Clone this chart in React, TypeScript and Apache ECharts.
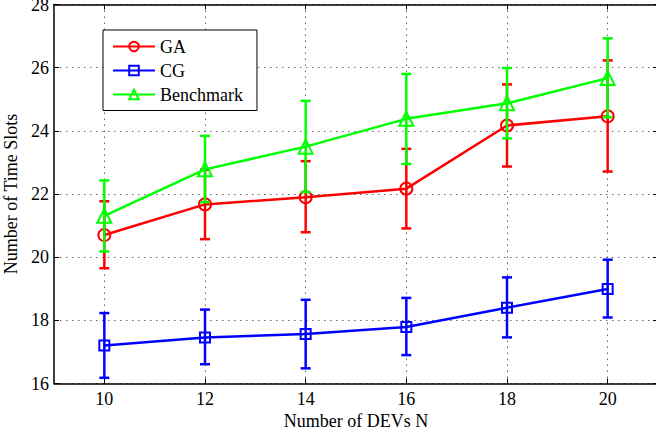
import React, { useEffect, useRef } from "react";
import * as echarts from "echarts";

const xCats = ["9", "10", "11", "12", "13", "14", "15", "16", "17", "18", "19", "20", "21"];
const xVals = ["10", "12", "14", "16", "18", "20"];

const gaMean = [20.7, 21.67, 21.9, 22.17, 24.17, 24.46];
const gaUpper = [21.77, 22.77, 23.04, 23.43, 25.47, 26.23];
const gaLower = [19.65, 20.57, 20.79, 20.91, 22.87, 22.71];

const cgMean = [17.2, 17.46, 17.57, 17.79, 18.4, 18.99];
const cgUpper = [18.23, 18.34, 18.65, 18.71, 19.36, 19.92];
const cgLower = [16.18, 16.61, 16.48, 16.9, 17.46, 18.09];

const bmMean = [21.31, 22.78, 23.5, 24.38, 24.87, 25.67];
const bmUpper = [22.43, 23.84, 24.95, 25.8, 25.99, 26.93];
const bmLower = [20.18, 21.74, 22.06, 22.95, 23.76, 24.43];

const yTicks = { min: 16, max: 28, interval: 2 };

const FONT = "Liberation Serif";

const evenOnly = (_i: number, v: string) => Number(v) % 2 === 0;

function errSeries(name: string, color: string, upper: number[], lower: number[], z: number) {
  return {
    name,
    type: "custom",
    z,
    encode: { x: 0, y: [1, 2] },
    data: xVals.map((x, i) => [x, upper[i], lower[i]]),
    renderItem: (_p: any, api: any) => {
      const x = api.value(0);
      const hi = api.coord([x, api.value(1)]);
      const lo = api.coord([x, api.value(2)]);
      const w = 5;
      const st = { stroke: color, lineWidth: 2.5 };
      return {
        type: "group",
        children: [
          { type: "line", shape: { x1: hi[0], y1: hi[1], x2: lo[0], y2: lo[1] }, style: st },
          { type: "line", shape: { x1: hi[0] - w, y1: hi[1], x2: hi[0] + w, y2: hi[1] }, style: st },
          { type: "line", shape: { x1: lo[0] - w, y1: lo[1], x2: lo[0] + w, y2: lo[1] }, style: st },
        ],
      };
    },
  };
}

function lineSeries(name: string, color: string, mean: number[], symbol: string, size: number, z: number) {
  return {
    name,
    type: "line",
    z,
    color,
    symbol,
    symbolSize: size,
    showAllSymbol: true,
    data: xVals.map((x, i) => [x, mean[i]]),
    lineStyle: { color, width: 2.5 },
    itemStyle: { color: "rgba(255,255,255,0)", borderColor: color, borderWidth: 2 },
  };
}

export default function App() {
  const ref = useRef<HTMLDivElement>(null);
  useEffect(() => {
    if (!ref.current) return;
    const chart = echarts.init(ref.current, null, { renderer: "svg" });
    const gridLine = { show: true, lineStyle: { color: "#666", width: 1, type: [1.5, 4.5] } };
    const axisLine = { show: true, onZero: false, lineStyle: { color: "#000", width: 1.5 } };
    const txt = { fontFamily: FONT, fontSize: 18, color: "#000" };
    chart.setOption({
      animation: false,
      backgroundColor: "#fff",
      textStyle: { fontFamily: FONT },
      grid: { left: 54, top: 4.5, width: 604, height: 379, containLabel: false, outerBoundsMode: "none" },
      legend: {
        data: ["GA", "CG", "Benchmark"],
        orient: "vertical",
        left: 103,
        top: 30,
        itemWidth: 42,
        itemHeight: 12,
        itemGap: 6,
        padding: [7.5, 14, 7, 9],
        borderColor: "#000",
        borderWidth: 1,
        backgroundColor: "#fff",
        textStyle: txt,
      },
      xAxis: [
        {
          type: "category",
          data: xCats,
          boundaryGap: false,
          position: "bottom",
          name: "Number of DEVs N",
          nameLocation: "middle",
          nameGap: 22,
          nameTextStyle: txt,
          axisLine,
          axisTick: { show: true, inside: true, length: 5, interval: evenOnly, lineStyle: { color: "#000", width: 1 } },
          axisLabel: { interval: evenOnly, margin: 6, ...txt },
          splitLine: { ...gridLine, interval: evenOnly },
        },
        {
          type: "category",
          data: xCats,
          boundaryGap: false,
          position: "top",
          axisLine,
          axisTick: { show: true, inside: true, length: 5, interval: evenOnly, lineStyle: { color: "#000", width: 1 } },
          axisLabel: { show: false },
          splitLine: { show: false },
        },
      ],
      yAxis: [
        {
          type: "value",
          ...yTicks,
          position: "left",
          name: "Number of Time Slots",
          nameLocation: "middle",
          nameGap: 28,
          nameTextStyle: txt,
          axisLine,
          axisTick: { show: true, inside: true, length: 5, lineStyle: { color: "#000", width: 1 } },
          axisLabel: { margin: 5, ...txt },
          splitLine: gridLine,
        },
        {
          type: "value",
          ...yTicks,
          position: "right",
          axisLine,
          axisTick: { show: true, inside: true, length: 5, lineStyle: { color: "#000", width: 1 } },
          axisLabel: { show: false },
          splitLine: { show: false },
        },
      ],
      series: [
        errSeries("GA-err", "#ff0000", gaUpper, gaLower, 2),
        lineSeries("GA", "#ff0000", gaMean, "circle", 12, 3),
        errSeries("CG-err", "#0000ff", cgUpper, cgLower, 4),
        lineSeries("CG", "#0000ff", cgMean, "rect", 10, 5),
        errSeries("Benchmark-err", "#00ff00", bmUpper, bmLower, 6),
        lineSeries("Benchmark", "#00ff00", bmMean, "triangle", 14, 7),
      ],
    });
    return () => chart.dispose();
  }, []);
  return (
    <div
      ref={ref}
      style={{ position: "absolute", left: 0, top: 0, width: 656, height: 433, background: "#fff" }}
    />
  );
}
